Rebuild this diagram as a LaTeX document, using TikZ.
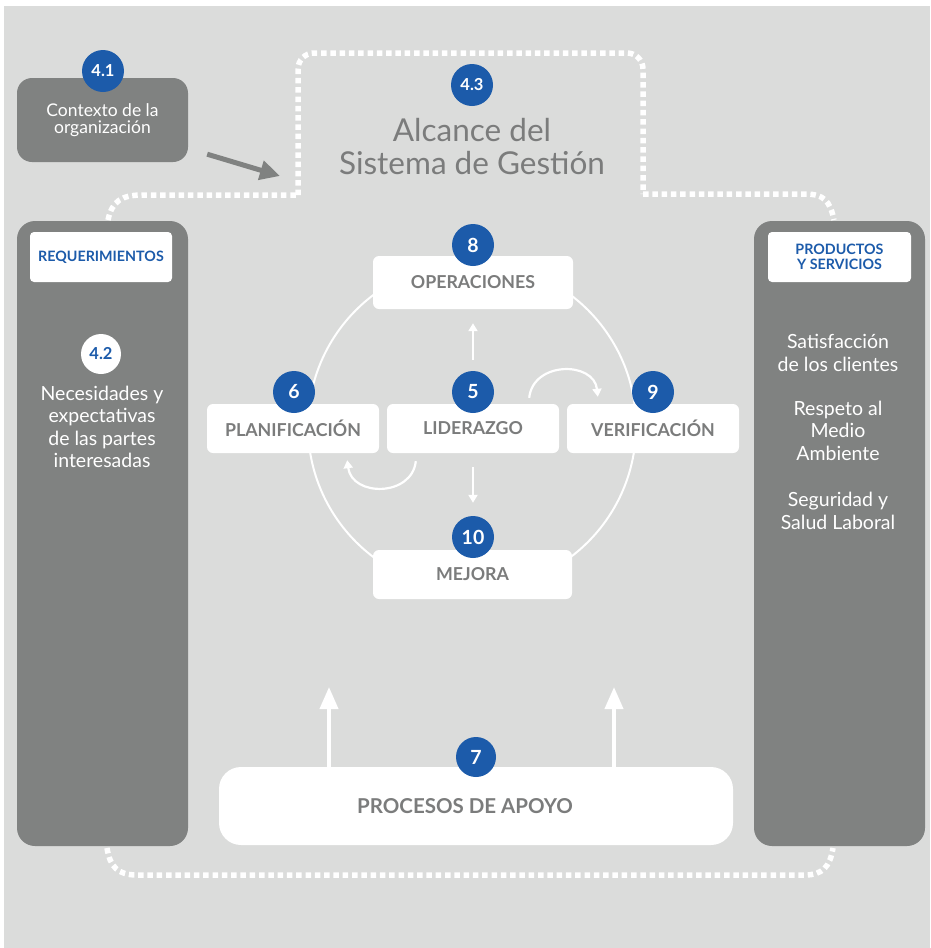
\documentclass[tikz,border=0pt]{standalone}
\usepackage{fontspec}
\setmainfont{Lato}
\usetikzlibrary{arrows.meta}

\definecolor{fondo}{HTML}{DBDCDB}
\definecolor{panelgris}{HTML}{808281}
\definecolor{azul}{HTML}{1C5BAA}
\definecolor{textgris}{HTML}{7B7C7C}

\begin{document}
\begin{tikzpicture}[x=1pt,y=-1pt,
    panel/.style={fill=panelgris,rounded corners=18pt,minimum width=171pt,minimum height=625pt,inner sep=0pt},
    etiqueta/.style={fill=white,rounded corners=4pt,minimum width=142pt,minimum height=50pt,inner sep=0pt,text=azul,font=\etiquetafontsize,align=center},
    caja/.style={fill=white,rounded corners=6pt,inner sep=0pt,text=textgris,font=\cajafontsize},
    numero/.style={circle,fill=azul,text=white,minimum size=42pt,inner sep=0pt,font=\numerofontsize},
    panteltexto/.style={text=white,align=center,font=\panelfontsize},
    punteado/.style={white,line width=5.5pt,dash pattern=on 5.5pt off 3.8pt},
    flechablanca/.style={white,line width=2.2pt,-{Triangle[length=8pt,width=9pt]}}]
    \pgfmathsetmacro{\ciclox}{472}
    \pgfmathsetmacro{\cicloy}{426}
    \pgfmathsetmacro{\ciclor}{164}
    \providecommand{\titlefontsize}{\fontsize{31.5pt}{33pt}\selectfont}
    \providecommand{\panelfontsize}{\fontsize{19.5pt}{22.5pt}\selectfont}
    \providecommand{\etiquetafontsize}{\fontsize{14.3pt}{15pt}\selectfont\bfseries}
    \providecommand{\cajafontsize}{\fontsize{17.8pt}{18pt}\selectfont\bfseries}
    \providecommand{\numerofontsize}{\fontsize{19.5pt}{19.5pt}\selectfont\bfseries}
    \providecommand{\subnumfontsize}{\fontsize{16.5pt}{16.5pt}\selectfont\bfseries}
    % fondo
    \fill[white] (0,0) rectangle (930,948);
    \fill[fondo] (4,6) rectangle (930,948);
    % alcance (linea punteada)
    \draw[punteado] (108,220) .. controls (112,201) and (122,195) .. (142,195) -- (298,195);
    \draw[punteado,rounded corners=16pt] (298,195) -- (298,53) -- (643,53) -- (643,194);
    \draw[punteado] (643,194) -- (805,194) .. controls (824,194) and (830,201) .. (834,220);
    \draw[punteado] (107,848) .. controls (110,867) and (118,875) .. (137,875) -- (805,875) .. controls (822,875) and (830,867) .. (833,848);
    \node[numero,font=\subnumfontsize] (n43) at (472,85) {4.3};
    \node[text=textgris,align=center,font=\titlefontsize] (alcance) at (472,147) {Alcance del\\Sistema de Gestión};
    % contexto
    \node[fill=panelgris,rounded corners=15pt,minimum width=171pt,minimum height=84pt,inner sep=0pt,
        text=white,align=center,font=\fontsize{17.5pt}{16.5pt}\selectfont] (ctx) at (102.5,120) {Contexto de la\\organización};
    \node[numero,font=\subnumfontsize] (n41) at (103,71) {4.1};
    \coordinate (entrada) at (280,176);
    \draw[panelgris,line width=5pt,-{Triangle[length=20pt,width=19pt]}] ([xshift=19pt,yshift=8pt]ctx.south east) -- (entrada);
    % paneles laterales
    \node[panel] (req) at (102.5,533.5) {};
    \node[panel] (prod) at (839.5,533.5) {};
    \node[etiqueta] (reqlab) at (101,257) {REQUERIMIENTOS};
    \node[etiqueta,minimum width=143pt] (prodlab) at (839.5,257) {PRODUCTOS\\Y SERVICIOS};
    \node[circle,fill=white,text=azul,minimum size=40pt,inner sep=0pt,font=\subnumfontsize] (n42) at (101,354) {4.2};
    \node[panteltexto] (necesidades) at (102,427) {Necesidades y\\expectativas\\de las partes\\interesadas};
    \node[panteltexto] (satisf) at (838,353) {Satisfacción\\de los clientes};
    \node[panteltexto] (medio) at (838,430.5) {Respeto al\\Medio\\Ambiente};
    \node[panteltexto] (seguridad) at (838,511) {Seguridad y\\Salud Laboral};
    % ciclo
    \draw[white,line width=2pt] (\ciclox,\cicloy) circle[radius=\ciclor pt];
    \node[caja,minimum width=200pt,minimum height=53pt] (ope) at (473,282.5) {OPERACIONES};
    \node[caja,minimum width=172pt,minimum height=49pt] (pla) at (293,428.5) {PLANIFICACIÓN};
    \node[caja,minimum width=172pt,minimum height=49pt] (lid) at (473,428.5) {LIDERAZGO};
    \node[caja,minimum width=172pt,minimum height=49pt] (ver) at (653,428.5) {VERIFICACIÓN};
    \node[caja,minimum width=199pt,minimum height=49pt] (mej) at (472.5,574.5) {MEJORA};
    \node[numero] (n8) at (473,245) {8};
    \node[numero] (n6) at (294,392) {6};
    \node[numero] (n5) at (473,392) {5};
    \node[numero] (n9) at (653,392) {9};
    \node[numero] (n10) at (473,537) {10};
    \draw[flechablanca] ([yshift=11pt]n5.north) -- ([yshift=-14pt]ope.south);
    \draw[flechablanca] ([yshift=-14pt]lid.south) -- ([yshift=13pt]n10.north);
    \draw[flechablanca] ([xshift=-30pt,yshift=6pt]lid.north east) .. controls (533,361) and (594,361) .. ([xshift=31pt,yshift=7pt]ver.north west);
    \draw[flechablanca] ([xshift=29pt,yshift=-8pt]lid.south west) .. controls (412,497) and (352,497) .. ([xshift=-32pt,yshift=-7pt]pla.south east);
    % procesos de apoyo
    \node[caja,rounded corners=22pt,minimum width=514pt,minimum height=78pt,font=\fontsize{20.5pt}{20.5pt}\selectfont\bfseries] (apo) at (476,806) {\hspace*{-22pt}PROCESOS DE APOYO};
    \node[numero,minimum size=40pt] (n7) at (476,757) {7};
    \coordinate (sube1) at (329,687);
    \coordinate (sube2) at (614,687);
    \draw[white,line width=4pt,-{Triangle[length=22pt,width=18pt]}] (apo.north -| sube1) -- (sube1);
    \draw[white,line width=4pt,-{Triangle[length=22pt,width=18pt]}] (apo.north -| sube2) -- (sube2);
\end{tikzpicture}
\end{document}
